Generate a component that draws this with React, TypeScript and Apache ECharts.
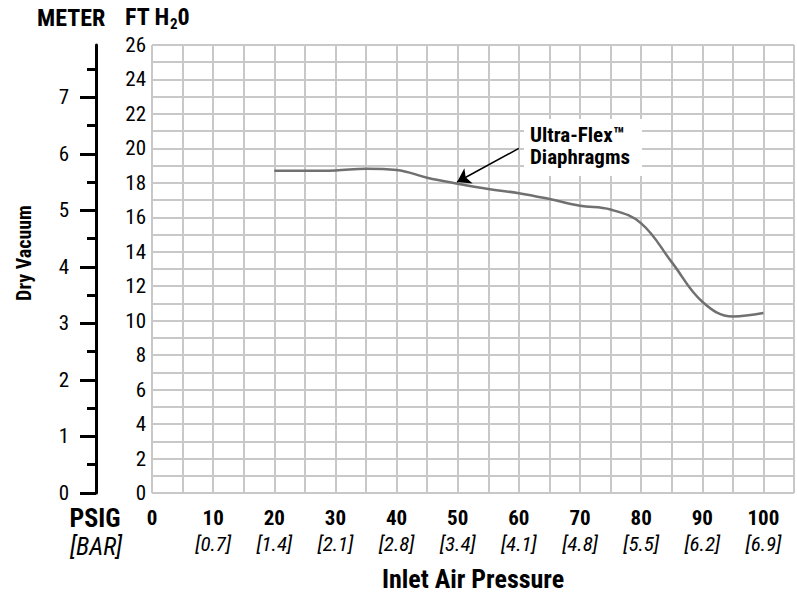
import React, { useEffect, useRef } from "react";
import * as echarts from "echarts";

// Inlet air pressure (PSIG) and dry vacuum (ft H2O)
const psig = [20, 25, 30, 35, 40, 45, 50, 55, 60, 65, 70, 75, 80, 85, 90, 95, 100];
const ftH2O = [18.7, 18.7, 18.72, 18.82, 18.75, 18.3, 17.95, 17.64, 17.4, 17.06, 16.67, 16.45, 15.65, 13.4, 11.1, 10.25, 10.45];

// x tick labels: PSIG with BAR equivalents
const psigTicks = [0, 10, 20, 30, 40, 50, 60, 70, 80, 90, 100];
const barTicks = ["", "0.7", "1.4", "2.1", "2.8", "3.4", "4.1", "4.8", "5.5", "6.2", "6.9"];

// meter axis ticks
const meterMajor = [0, 1, 2, 3, 4, 5, 6, 7];
const meterMinor = [0.5, 1.5, 2.5, 3.5, 4.5, 5.5, 6.5, 7.5];
const FT_PER_M = 3.28084;
const FT_MAX = 26;

// annotation arrow (from label to curve), in data coords [psig, ft]
const arrowFrom = [60, 20.0];
const arrowTo = [49.9, 18.05];

const F = "'Roboto Condensed', 'DejaVu Sans Condensed', sans-serif";
const GRID = "#c8c8c8";

export default function App() {
  const ref = useRef<HTMLDivElement>(null);
  useEffect(() => {
    if (!ref.current) return;
    const chart = echarts.init(ref.current, undefined, { renderer: "svg" });
    const meterAxisBase = {
      type: "value",
      position: "left",
      offset: 56,
      min: 0,
      max: FT_MAX / FT_PER_M,
      splitLine: { show: false },
    };
    chart.setOption({
      animation: false,
      backgroundColor: "#ffffff",
      grid: { left: 152, top: 45, right: 1, bottom: 107, containLabel: false },
      xAxis: {
        type: "value",
        min: 0,
        max: 105,
        interval: 5,
        axisLine: { show: false },
        axisTick: { show: false },
        splitLine: { show: true, lineStyle: { color: GRID, width: 2 } },
        name: "Inlet Air Pressure",
        nameLocation: "middle",
        nameGap: 73,
        nameTextStyle: { fontFamily: F, fontSize: 26, fontWeight: "bold", color: "#000" },
        axisLabel: {
          margin: 12,
          color: "#000",
          formatter: (v: number) => {
            const i = psigTicks.indexOf(v);
            if (i < 0) return "";
            return barTicks[i] ? `{a|${v}}\n{b|[${barTicks[i]}]}` : `{a|${v}}`;
          },
          rich: {
            a: { fontFamily: F, fontSize: 21, fontWeight: "bold", lineHeight: 26, color: "#000" },
            b: { fontFamily: F, fontSize: 21, fontStyle: "italic", lineHeight: 26, color: "#000" },
          },
        },
      },
      yAxis: [
        {
          type: "value",
          position: "left",
          min: 0,
          max: FT_MAX,
          interval: 1,
          axisLine: { show: false },
          axisTick: { show: false },
          splitLine: { show: true, lineStyle: { color: GRID, width: 2 } },
          axisLabel: {
            margin: 6,
            color: "#000",
            fontFamily: F,
            fontSize: 21,
            formatter: (v: number) => (v % 2 === 0 ? String(v) : ""),
          },
        },
        {
          ...meterAxisBase,
          axisLine: { show: true, lineStyle: { color: "#000", width: 3 } },
          axisTick: { show: true, customValues: meterMajor, length: 16, lineStyle: { color: "#000", width: 3 } },
          axisLabel: {
            show: true,
            customValues: meterMajor,
            margin: 27,
            color: "#000",
            fontFamily: F,
            fontSize: 21,
          },
        },
        {
          ...meterAxisBase,
          axisLine: { show: false },
          axisTick: { show: true, customValues: meterMinor, length: 9, lineStyle: { color: "#000", width: 3 } },
          axisLabel: { show: false },
        },
      ],
      series: [
        {
          type: "line",
          xAxisIndex: 0,
          yAxisIndex: 0,
          data: psig.map((p, i) => [p, ftH2O[i]]),
          smooth: 0.4,
          showSymbol: false,
          silent: true,
          lineStyle: { color: "#707070", width: 2.5 },
          markLine: {
            silent: true,
            animation: false,
            symbol: ["none", "arrow"],
            symbolSize: 13,
            label: { show: false },
            lineStyle: { color: "#000", width: 1.5, type: "solid" },
            emphasis: { disabled: true },
            data: [[{ coord: arrowFrom }, { coord: arrowTo }]],
          },
        },
      ],
      graphic: [
        {
          type: "text",
          left: 37,
          top: 6,
          style: { text: "METER", fontFamily: F, fontSize: 24, fontWeight: "bold", fill: "#000" },
        },
        {
          type: "text",
          left: 125,
          top: 5,
          style: {
            text: "{a|FT H}{b|2}{a|0}",
            rich: {
              a: { fontFamily: F, fontSize: 24, fontWeight: "bold", lineHeight: 28, fill: "#000" },
              b: { fontFamily: F, fontSize: 15, fontWeight: "bold", lineHeight: 12, verticalAlign: "bottom", fill: "#000" },
            },
          },
        },
        {
          type: "text",
          x: 24,
          y: 253,
          rotation: Math.PI / 2,
          style: {
            text: "Dry Vacuum",
            textAlign: "center",
            textVerticalAlign: "middle",
            fontFamily: F,
            fontSize: 20,
            fontWeight: "bold",
            fill: "#000",
          },
        },
        {
          type: "text",
          x: 95,
          y: 518,
          style: {
            text: "PSIG",
            textAlign: "center",
            textVerticalAlign: "middle",
            fontFamily: F,
            fontSize: 26,
            fontWeight: "bold",
            fill: "#000",
          },
        },
        {
          type: "text",
          x: 96,
          y: 546,
          style: {
            text: "[BAR]",
            textAlign: "center",
            textVerticalAlign: "middle",
            fontFamily: F,
            fontSize: 25,
            fontStyle: "italic",
            fill: "#000",
          },
        },
        {
          type: "rect",
          z: 10,
          shape: { x: 524, y: 119, width: 118, height: 57 },
          style: { fill: "#ffffff" },
        },
        {
          type: "text",
          z: 11,
          x: 530,
          y: 124,
          style: {
            text: "Ultra-Flex™",
            fontFamily: F,
            fontSize: 21,
            fontWeight: "bold",
            fill: "#000",
          },
        },
        {
          type: "text",
          z: 11,
          x: 530,
          y: 146,
          style: {
            text: "Diaphragms",
            fontFamily: F,
            fontSize: 21,
            fontWeight: "bold",
            fill: "#000",
          },
        },
      ],
    });
    return () => chart.dispose();
  }, []);
  return <div ref={ref} style={{ position: "fixed", left: 0, top: 0, width: 797, height: 600 }} />;
}
